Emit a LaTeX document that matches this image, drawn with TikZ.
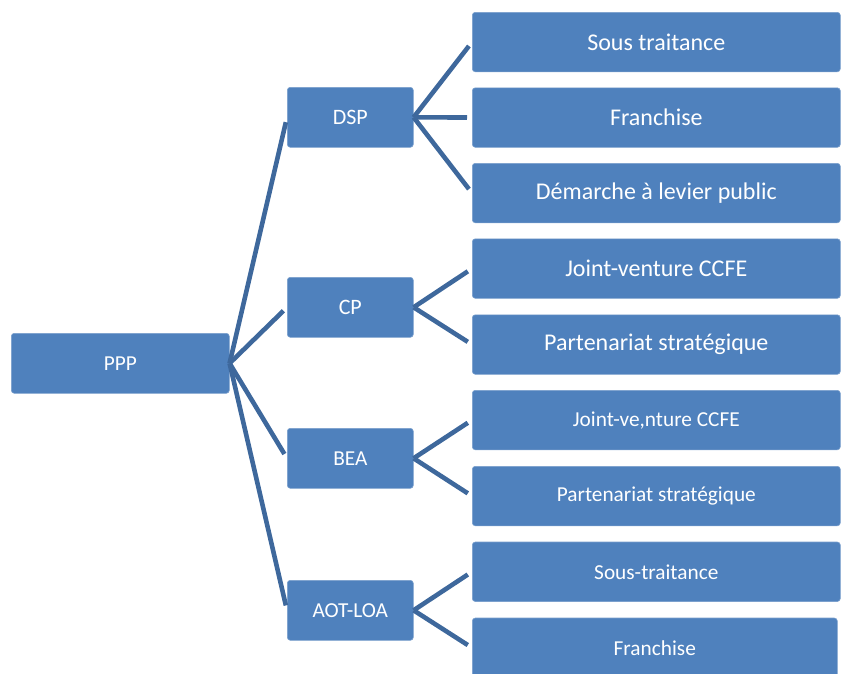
\documentclass[tikz,border=0pt]{standalone}
\usepackage{fontspec}
\setmainfont{Carlito}
\definecolor{boxblue}{RGB}{79,129,189}
\definecolor{lineblue}{RGB}{62,104,156}
\begin{document}
\begin{tikzpicture}[x=1pt,y=-1pt,
 box/.style={fill=boxblue, draw=boxblue!75!white, line width=0.6pt, rounded corners=3pt, text=white, inner sep=0pt, anchor=north west},
 lvl/.style={box, minimum width=126pt, minimum height=60pt, font=\fontsize{22}{26}\selectfont},
 leaf/.style={box, minimum width=368pt, minimum height=59.5pt},
 bigtext/.style={font=\fontsize{24}{28}\selectfont},
 smalltext/.style={font=\fontsize{21.3}{25}\selectfont},
 conn/.style={draw=lineblue, line width=4.6pt, shorten >=5pt}
]
\useasboundingbox (0,0) rectangle (841,673);
\clip (0,0) rectangle (841,673);
% root
\node[box, minimum width=218pt, minimum height=60pt, font=\fontsize{21.3}{25}\selectfont] (ppp) at (11,333) {PPP};
% level 2
\node[lvl] (dsp) at (287,87) {DSP};
\node[lvl] (cp) at (287,277) {CP};
\node[lvl, font=\fontsize{21.3}{25}\selectfont] (bea) at (287,428) {BEA};
\node[lvl, font=\fontsize{21.3}{25}\selectfont] (aot) at (287,580) {AOT-LOA};
% leaves
\node[leaf, bigtext] (l1) at (472,12) {Sous traitance};
\node[leaf, bigtext] (l2) at (472,87.5) {Franchise};
\node[leaf, bigtext] (l3) at (472,163) {Démarche à levier public};
\node[leaf, bigtext] (l4) at (472,238.5) {Joint-venture CCFE};
\node[leaf, bigtext] (l5) at (472,314.5) {Partenariat stratégique};
\node[leaf, smalltext] (l6) at (472,390) {Joint-ve,nture CCFE};
\node[leaf, smalltext] (l7) at (472,466) {Partenariat stratégique};
\node[leaf, smalltext] (l8) at (472,541.7) {Sous-traitance};
\node[leaf, smalltext, minimum width=365pt] (l9) at (472,617.7) {Franchise};
% connectors
\draw[conn] (ppp.east) -- (dsp.west);
\draw[conn] (ppp.east) -- (cp.west);
\draw[conn] (ppp.east) -- (bea.west);
\draw[conn] (ppp.east) -- (aot.west);
\draw[conn] (dsp.east) -- (l1.west);
\draw[conn] (dsp.east) -- (l2.west);
\draw[conn] (dsp.east) -- (l3.west);
\draw[conn] (cp.east) -- (l4.west);
\draw[conn] (cp.east) -- (l5.west);
\draw[conn] (bea.east) -- (l6.west);
\draw[conn] (bea.east) -- (l7.west);
\draw[conn] (aot.east) -- (l8.west);
\draw[conn] (aot.east) -- (l9.west);
\end{tikzpicture}
\end{document}
